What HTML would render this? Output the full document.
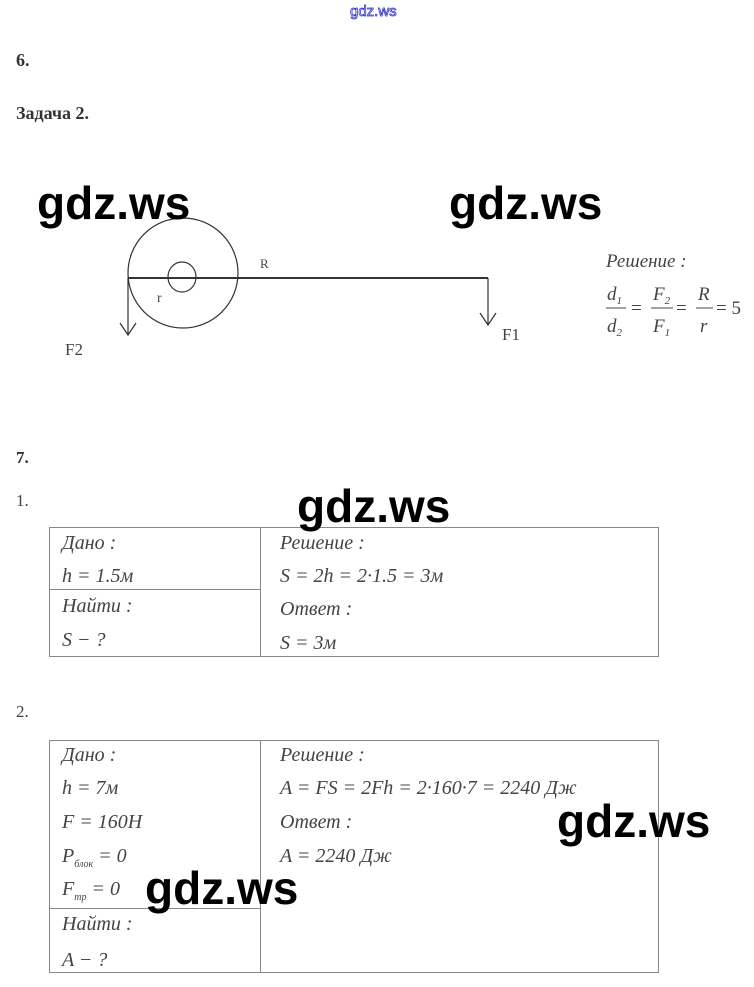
<!DOCTYPE html>
<html><head><meta charset="utf-8"><style>
body{margin:0;width:754px;height:987px;background:#fff;position:relative;overflow:hidden;font-family:"Liberation Serif",serif}
.a{position:absolute;white-space:nowrap}
.wm{font-family:"Liberation Sans",sans-serif;font-weight:bold;font-size:46px;color:#000;line-height:1}
.it{font-style:italic;font-size:20px;color:#444;line-height:1}
.b{font-weight:bold;color:#333;font-size:18px}
.ln{position:absolute;background:#888}
</style></head><body>
<div class="a" style="left:350px;top:3px;font-family:'Liberation Sans',sans-serif;font-size:15px;color:#fff;-webkit-text-stroke:0.8px #33c">gdz.ws</div>
<div class="a b" style="left:16px;top:50px">6.</div>
<div class="a b" style="left:16px;top:103px">Задача 2.</div>
<div class="a" style="left:16px;top:448px;font-size:17px;font-weight:bold;color:#333">7.</div>
<div class="a" style="left:16px;top:491px;font-size:17px;color:#444">1.</div>
<div class="a" style="left:16px;top:702px;font-size:17px;color:#444">2.</div>

<svg class="a" style="left:0;top:0" width="754" height="400">
<g fill="none" stroke="#333" stroke-width="1.2">
<circle cx="183" cy="273" r="55"/>
<ellipse cx="182" cy="277" rx="14" ry="15"/>
<line x1="128" y1="278" x2="488" y2="278" stroke-width="2"/>
<line x1="128" y1="278" x2="128" y2="335"/>
<polyline points="120,323 128,335 136,323"/>
<line x1="488" y1="278" x2="488" y2="325"/>
<polyline points="480,313 488,325 496,313"/>
</g>
<g font-family="Liberation Serif" fill="#444">
<text x="260" y="268" font-size="13">R</text>
<text x="157" y="302" font-size="14">r</text>
<text x="65" y="355" font-size="17">F2</text>
<text x="502" y="340" font-size="17">F1</text>
<g font-style="italic" font-size="19">
<text x="606" y="267">Решение :</text>
<text x="607" y="300">d<tspan font-size="11" dy="4">1</tspan></text>
<text x="607" y="332">d<tspan font-size="11" dy="4">2</tspan></text>
<text x="653" y="300">F<tspan font-size="11" dy="4">2</tspan></text>
<text x="653" y="332">F<tspan font-size="11" dy="4">1</tspan></text>
<text x="698" y="300">R</text>
<text x="700" y="332">r</text>
</g>
<g font-size="19"><text x="631" y="314">=</text><text x="676" y="314">=</text><text x="716" y="314">= 5</text></g>
<g stroke="#444" stroke-width="1"><line x1="606" y1="308" x2="626" y2="308"/><line x1="651" y1="308" x2="673" y2="308"/><line x1="696" y1="308" x2="713" y2="308"/></g>
</g>
</svg>

<!-- table 1 -->
<div class="a" style="left:49px;top:527px;width:608px;height:128px;border:1px solid #888"></div>
<div class="ln" style="left:260px;top:527px;width:1px;height:130px"></div>
<div class="ln" style="left:49px;top:589px;width:211px;height:1px"></div>
<div class="a it" style="left:62px;top:533px">Дано :</div>
<div class="a it" style="left:62px;top:566px">h = 1.5м</div>
<div class="a it" style="left:62px;top:596px">Найти :</div>
<div class="a it" style="left:62px;top:630px">S − ?</div>
<div class="a it" style="left:280px;top:533px">Решение :</div>
<div class="a it" style="left:280px;top:566px">S = 2h = 2·1.5 = 3м</div>
<div class="a it" style="left:280px;top:599px">Ответ :</div>
<div class="a it" style="left:280px;top:633px">S = 3м</div>

<!-- table 2 -->
<div class="a" style="left:49px;top:740px;width:608px;height:231px;border:1px solid #888"></div>
<div class="ln" style="left:260px;top:740px;width:1px;height:233px"></div>
<div class="ln" style="left:49px;top:908px;width:211px;height:1px"></div>
<div class="a it" style="left:62px;top:745px">Дано :</div>
<div class="a it" style="left:62px;top:778px">h = 7м</div>
<div class="a it" style="left:62px;top:812px">F = 160H</div>
<div class="a it" style="left:62px;top:846px">P<sub style="font-size:10px">блок</sub> = 0</div>
<div class="a it" style="left:62px;top:879px">F<sub style="font-size:10px">тр</sub> = 0</div>
<div class="a it" style="left:62px;top:914px">Найти :</div>
<div class="a it" style="left:62px;top:950px">A − ?</div>
<div class="a it" style="left:280px;top:745px">Решение :</div>
<div class="a it" style="left:280px;top:778px">A = FS = 2Fh = 2·160·7 = 2240 Дж</div>
<div class="a it" style="left:280px;top:812px">Ответ :</div>
<div class="a it" style="left:280px;top:846px">A = 2240 Дж</div>

<div class="a wm" style="left:37px;top:180px">gdz.ws</div>
<div class="a wm" style="left:449px;top:180px">gdz.ws</div>
<div class="a wm" style="left:297px;top:483px">gdz.ws</div>
<div class="a wm" style="left:557px;top:798px">gdz.ws</div>
<div class="a wm" style="left:145px;top:865px">gdz.ws</div>
</body></html>
